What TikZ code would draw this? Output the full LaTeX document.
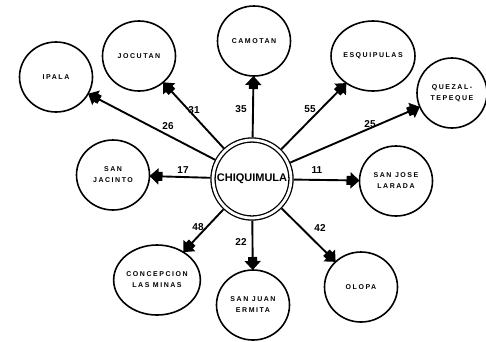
\documentclass[tikz,border=0pt]{standalone}
\usepackage{fontspec}
\setmainfont{Liberation Sans}
\newfontfamily\townfont[LetterSpace=22]{Liberation Sans}
\usetikzlibrary{arrows.meta,shapes.geometric}

\tikzset{
  town/.style={draw, ellipse, line width=1.6pt, minimum width=73pt,
    minimum height=70pt, inner sep=0pt, outer sep=0pt, align=center,
    font=\townfont\bfseries\fontsize{7}{11}\selectfont},
  hub/.style={draw, circle, line width=1.3pt, double, double distance=2.8pt,
    minimum size=78pt, inner sep=0pt, outer sep=2.6pt,
    font=\bfseries\fontsize{11}{13}\selectfont},
  route/.style={line width=1.9pt,
    -{Square[length=6pt,width=9pt,sep=-2pt]Triangle[length=9pt,width=16pt]}},
  dist/.style={font=\bfseries\fontsize{10}{12}\selectfont, inner sep=0pt}
}

\begin{document}
\begin{tikzpicture}[x=1pt,y=-1pt]
  \useasboundingbox (0,0) rectangle (486,341);

  % municipal seat
  \node[hub] (chiq) at (252,179) {CHIQUIMULA};

  % surrounding municipalities
  \node[town] (ipala) at (56,77) {IPALA};
  \node[town] (jocu)  at (139,56) {JOCUTAN};
  \node[town] (camo)  at (254,41) {CAMOTAN};
  \node[town] (esqu)  at (373,56) {ESQUIPULAS};
  \node[town, minimum width=70pt] (quez) at (452,93) {QUEZAL-\\TEPEQUE};
  \node[town] (jaci)  at (113,175) {SAN\\JACINTO};
  \node[town] (jose)  at (396,181) {SAN JOSE\\LARADA};
  \node[town] (conc)  at (157,280) {CONCEPCION\\LAS MINAS};
  \node[town] (juan)  at (253,305) {SAN JUAN\\ERMITA};
  \node[town] (olop)  at (361,287) {OLOPA};

  % routes out of the seat
  \draw[route] (chiq) -- (ipala);
  \draw[route] (chiq) -- (jocu);
  \draw[route] (chiq) -- (camo);
  \draw[route] (chiq) -- (esqu);
  \draw[route] (chiq) -- (quez);
  \draw[route] (chiq) -- (jaci);
  \draw[route] (chiq) -- (jose);
  \draw[route] (chiq) -- (conc);
  \draw[route] (chiq) -- (juan);
  \draw[route] (chiq) -- (olop);

  % distances
  \node[dist] (d26) at (168,126) {26};
  \node[dist] (d31) at (194,110) {31};
  \node[dist] (d35) at (241,109) {35};
  \node[dist] (d55) at (310,109) {55};
  \node[dist] (d25) at (370,124) {25};
  \node[dist] (d17) at (183,170) {17};
  \node[dist] (d11) at (317,170) {11};
  \node[dist] (d42) at (320,228) {42};
  \node[dist] (d22) at (241,242) {22};
  \node[dist] (d48) at (198,227) {48};
\end{tikzpicture}
\end{document}
